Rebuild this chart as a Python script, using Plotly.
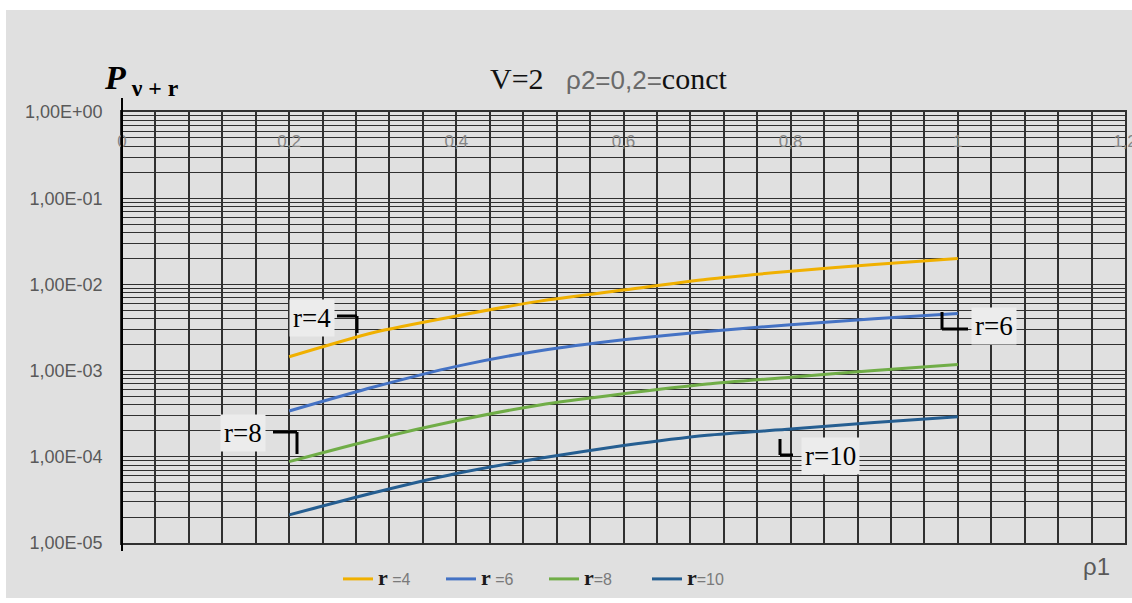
import plotly.graph_objects as go

# ---------------- data ----------------
rho1 = [0.2, 0.3, 0.4, 0.5, 0.6, 0.7, 0.8, 0.9, 1.0]
p_r4 = [1.45e-3, 2.75e-3, 4.30e-3, 6.40e-3, 8.60e-3, 1.15e-2, 1.42e-2, 1.70e-2, 2.00e-2]
p_r6 = [3.40e-4, 6.40e-4, 1.12e-3, 1.70e-3, 2.28e-3, 2.85e-3, 3.40e-3, 4.00e-3, 4.60e-3]
p_r8 = [8.80e-5, 1.58e-4, 2.62e-4, 4.00e-4, 5.40e-4, 7.00e-4, 8.40e-4, 1.00e-3, 1.18e-3]
p_r10 = [2.12e-5, 3.80e-5, 6.40e-5, 9.60e-5, 1.35e-4, 1.78e-4, 2.10e-4, 2.50e-4, 2.92e-4]

series_suffix = [" =4", " =6", "=8", "=10"]
series_colors = ["#F0B000", "#4472C4", "#70AD47", "#255E91"]

x_grid = [round(0.04 * i, 2) for i in range(31)]
x_labels = {0.0: "0", 0.2: "0,2", 0.4: "0,4", 0.6: "0,6", 0.8: "0,8", 1.0: "1", 1.2: "1,2"}

y_decades = [-5, -4, -3, -2, -1, 0]
y_major_text = {-5: "1,00E-05", -4: "1,00E-04", -3: "1,00E-03", -2: "1,00E-02", -1: "1,00E-01", 0: "1,00E+00"}

title_parts = ["V=2", "ρ2=0,2=", "conct"]

# ---------------- geometry helpers (pixel -> paper) ----------------
W, H = 1132, 603
L, R, T, B = 122, 1125, 112, 543
pw, ph = R - L, B - T


def px(x):
    return (x - L) / pw


def py(y):
    return (B - y) / ph


fig = go.Figure()

for suf, ys, col in zip(series_suffix, [p_r4, p_r6, p_r8, p_r10], series_colors):
    name = ("<span style='font-family:Liberation Serif;font-size:22px;color:#1a1a1a'><b>r</b></span>"
            + suf)
    fig.add_trace(go.Scatter(
        x=rho1, y=ys, mode="lines", name=name,
        line=dict(color=col, width=3, shape="spline", smoothing=0.6),
    ))

# y ticks: every 1..9 x 10^n (minor log grid), labels only on decades
y_tickvals, y_ticktext = [], []
for d in y_decades:
    for k in range(1, 10):
        if d == 0 and k > 1:
            break
        y_tickvals.append(k * 10 ** d)
        y_ticktext.append(y_major_text[d] if k == 1 else "")

x_ticktext = [x_labels.get(v, "") for v in x_grid]

grid_col = "#303030"

fig.update_layout(
    width=W, height=H,
    margin=dict(l=L, r=W - R, t=T, b=H - B, autoexpand=False),
    paper_bgcolor="white",
    plot_bgcolor="rgba(0,0,0,0)",
    showlegend=True,
    legend=dict(
        orientation="h", x=px(338), xanchor="left", y=py(562), yanchor="top",
        font=dict(family="Liberation Sans", size=16, color="#7a7a7a"),
        bgcolor="rgba(0,0,0,0)", tracegroupgap=0,
        entrywidth=58, entrywidthmode="pixels",
    ),
    xaxis=dict(
        range=[0, 1.2], side="top", tickmode="array", tickvals=x_grid, ticktext=x_ticktext,
        ticklabelposition="inside", ticks="", ticklabelstandoff=24, ticklabeloverflow="allow",
        showgrid=True, gridcolor=grid_col, gridwidth=1.5, zeroline=False,
        showline=True, mirror=True, linecolor=grid_col, linewidth=1.5,
        automargin=False,
        tickfont=dict(family="Liberation Sans", size=17, color="#858585"),
    ),
    yaxis=dict(
        type="log", range=[-5, 0], tickmode="array", tickvals=y_tickvals, ticktext=y_ticktext,
        ticks="", showgrid=True, gridcolor=grid_col, gridwidth=1, zeroline=False,
        showline=True, mirror=True, linecolor=grid_col, linewidth=1.5,
        automargin=False,
        tickfont=dict(family="Liberation Sans", size=18, color="#595959"),
        ticklabelstandoff=14,
    ),
)

# gray background panel
fig.add_shape(type="rect", xref="paper", yref="paper", layer="below",
              x0=px(6), x1=px(W + 5), y0=py(598), y1=py(10),
              fillcolor="#E0E0E0", line=dict(width=0))

# left axis line
fig.add_shape(type="line", xref="paper", yref="paper", x0=0, x1=0, y0=py(551), y1=py(98),
              line=dict(color="black", width=2))

# leader lines (elbows) for data labels
elbows = [
    [(337, 316), (357, 316), (357, 333)],      # r=4
    [(273, 432), (297, 432), (297, 454)],      # r=8
    [(942, 312), (942, 329), (968, 329)],      # r=6
    [(780, 439), (780, 455), (793, 455)],      # r=10
]
for pts in elbows:
    for (a0, b0), (a1, b1) in zip(pts[:-1], pts[1:]):
        fig.add_shape(type="line", xref="paper", yref="paper",
                      x0=px(a0), y0=py(b0), x1=px(a1), y1=py(b1),
                      line=dict(color="black", width=3))

# data labels
labels = [("r=4", 312, 318), ("r=6", 994, 326), ("r=8", 243, 433), ("r=10", 830, 456)]
for txt, lx, ly in labels:
    fig.add_annotation(xref="paper", yref="paper", x=px(lx), y=py(ly), text=txt,
                       xanchor="center", yanchor="middle",
                       showarrow=False, bgcolor="#ECECEC", borderpad=3,
                       font=dict(family="Liberation Serif", size=27, color="black"))

# title (mixed fonts as in the reference)
title_html = ("<span style='font-family:Liberation Serif;color:#111'>{}</span>   "
              "<span style='font-family:Liberation Sans;color:#6a6a6a;font-size:26px'>{}</span>"
              "<span style='font-family:Liberation Serif;color:#111'>{}</span>").format(*title_parts)
fig.add_annotation(xref="paper", yref="paper", x=px(608), y=py(78), text=title_html,
                   xanchor="center", yanchor="middle",
                   showarrow=False, font=dict(family="Liberation Serif", size=30, color="black"))

# y-axis title P_{v+r}
fig.add_annotation(xref="paper", yref="paper", x=px(102), y=py(80), xanchor="left", yanchor="middle",
                   text="<b><i>P</i></b><sub><b> ν + r</b></sub>", showarrow=False,
                   font=dict(family="Liberation Serif", size=34, color="black"))

# x-axis title
fig.add_annotation(xref="paper", yref="paper", x=px(1096), y=py(566), text="ρ1",
                   xanchor="center", yanchor="middle",
                   showarrow=False, font=dict(family="Liberation Sans", size=24, color="#595959"))

fig.write_html("out.html", config={"displayModeBar": False},
               post_script="document.body.style.margin='0';document.body.style.padding='0';")
